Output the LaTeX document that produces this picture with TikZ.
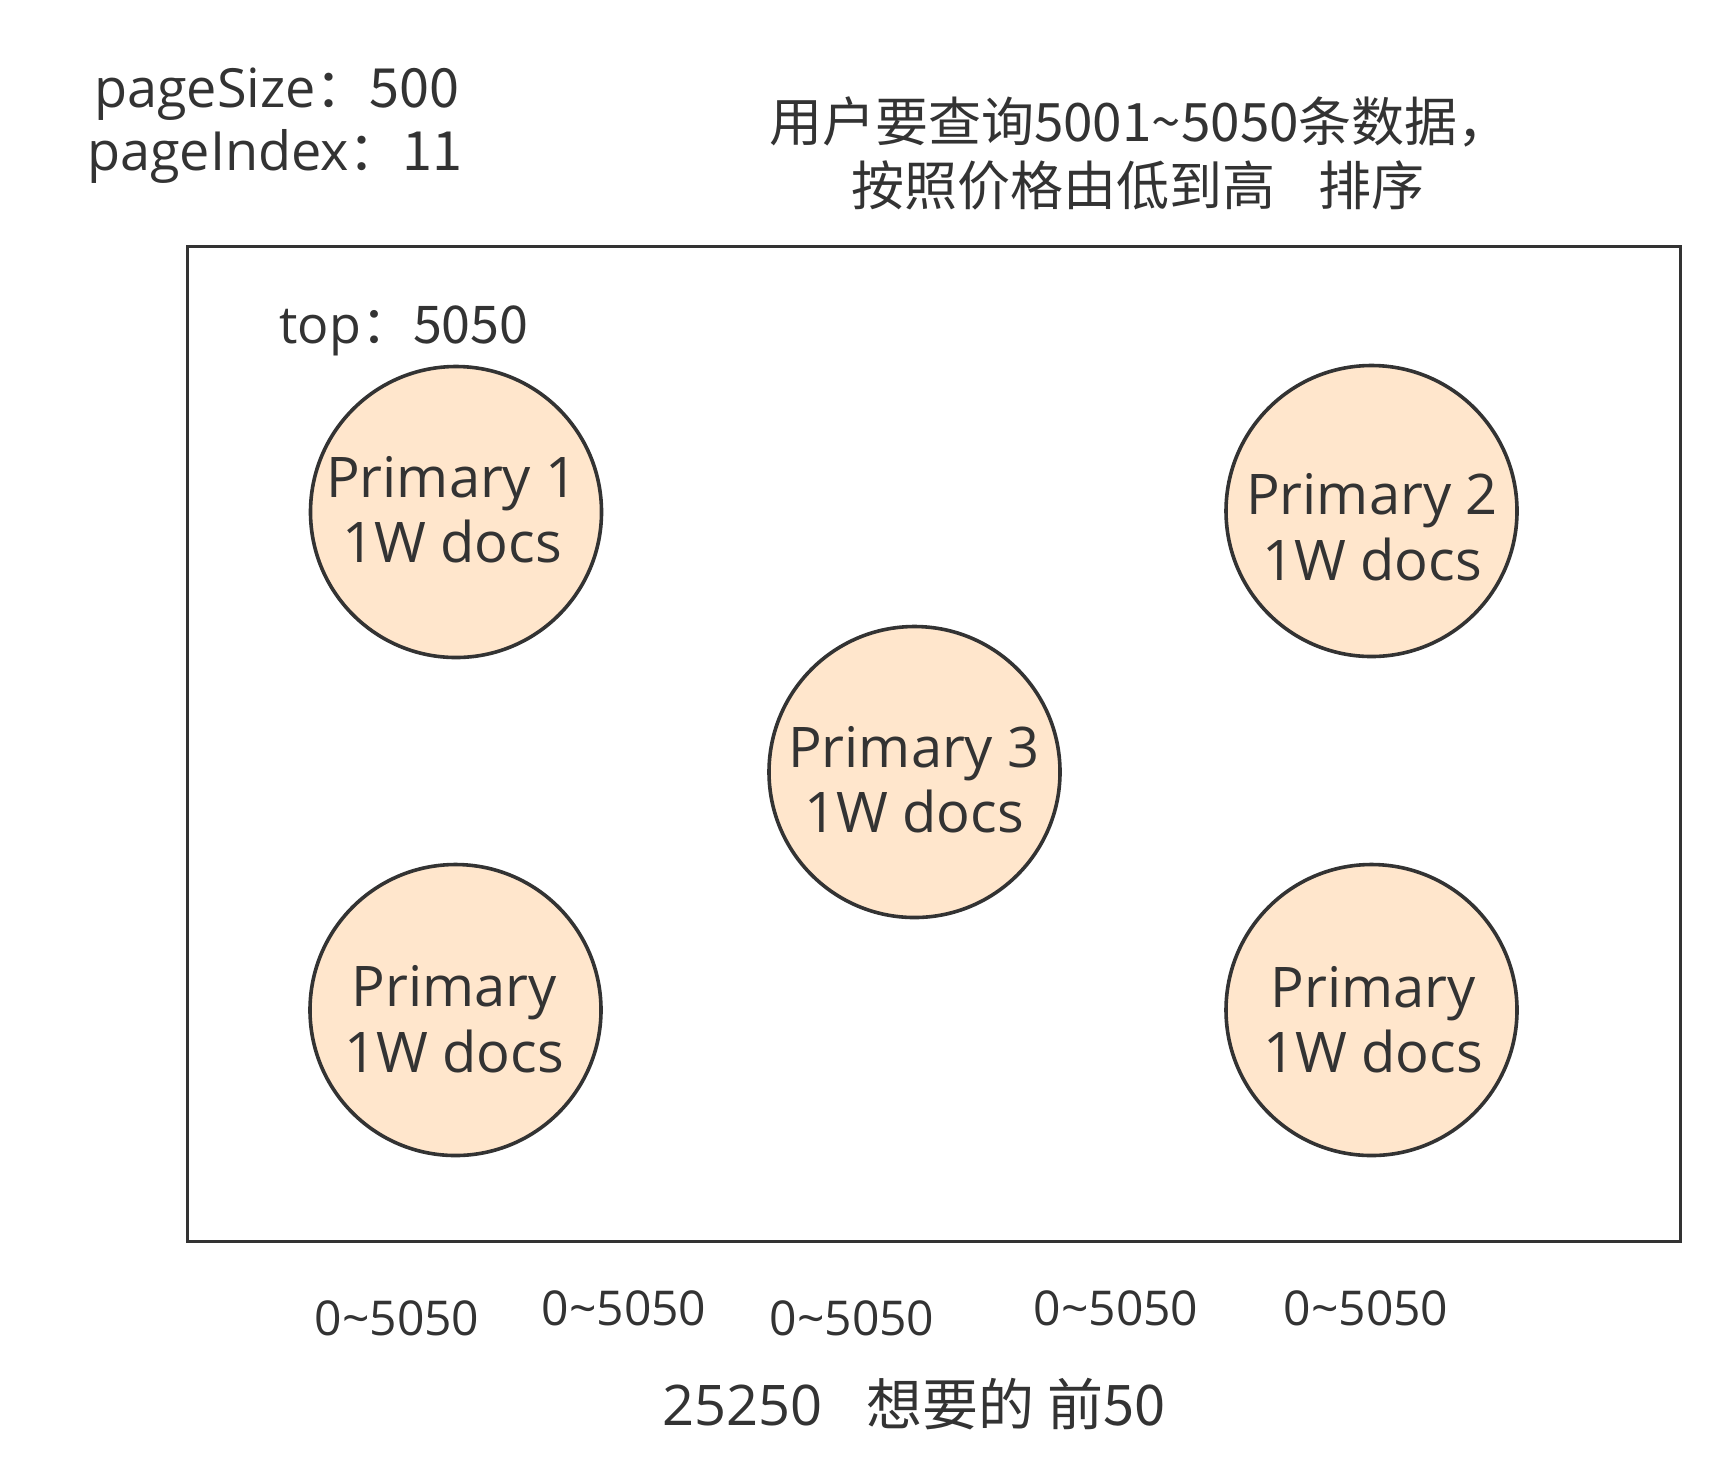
\documentclass[tikz,border=0pt]{standalone}
\usepackage{fontspec}
\setmainfont{Open Sans}
\newfontfamily\cjk{Noto Sans CJK SC}
\definecolor{ink}{HTML}{333333}
\definecolor{shardfill}{HTML}{FFE6CC}
\begin{document}
\begin{tikzpicture}[x=0.5pt,y=-0.5pt,
  txt/.style={text=ink, inner sep=0pt, anchor=base},
  bigtxt/.style={txt, font=\fontsize{27pt}{32pt}\selectfont},
  toplbl/.style={txt, font=\fontsize{26pt}{32pt}\selectfont},
  titletxt/.style={txt, font=\fontsize{26.5pt}{32pt}\selectfont},
  shard/.style={circle, draw=ink, line width=1.8pt, fill=shardfill, minimum size=145.5pt, inner sep=0pt},
  shardtxt/.style={txt, font=\fontsize{28pt}{32pt}\selectfont},
  rangetxt/.style={txt, font=\fontsize{24pt}{28pt}\selectfont},
  sumtxt/.style={txt, font=\fontsize{28pt}{34pt}\selectfont},
  framebox/.style={draw=ink, line width=1.9pt, minimum width=746.5pt, minimum height=497.5pt, inner sep=0pt}]
\fill[white] (0,0) rectangle (1732,1480);
\useasboundingbox (0,0) rectangle (1732,1480);

% header texts
\node[bigtxt] (ps) at (277,107) {pageSize\cjk{：}500};
\node[bigtxt] (pi) at (275,170) {pageIndex\cjk{：}11};
\node[titletxt] (t1) at (1140,141) {\cjk{用户要查询}5001\textasciitilde 5050\cjk{条数据，}};
\node[titletxt] (t2) at (1138,205) {\cjk{按照价格由低到高\hspace{0.8em}排序}};

% frame
\node[framebox] (box) at (934,744) {};
\node[toplbl] (top) at (404,343) {top\cjk{：}5050};

% shards
\node[shard] (p1) at (456,512) {};
\node[shard] (p2) at (1371.5,511) {};
\node[shard] (p3) at (914.5,772) {};
\node[shard] (p4) at (455.5,1010) {};
\node[shard] (p5) at (1371.5,1010) {};

\node[shardtxt] (p1a) at (452,497) {Primary 1};
\node[shardtxt] (p1b) at (452,562) {1W docs};
\node[shardtxt] (p2a) at (1372,514) {Primary 2};
\node[shardtxt] (p2b) at (1372,580) {1W docs};
\node[shardtxt] (p3a) at (914,767) {Primary 3};
\node[shardtxt] (p3b) at (914,832) {1W docs};
\node[shardtxt] (p4a) at (454,1006) {Primary};
\node[shardtxt] (p4b) at (454,1072) {1W docs};
\node[shardtxt] (p5a) at (1373,1007) {Primary};
\node[shardtxt] (p5b) at (1373,1072) {1W docs};

% ranges
\node[rangetxt] (r1) at (397,1335) {0\textasciitilde 5050};
\node[rangetxt] (r2) at (624,1325) {0\textasciitilde 5050};
\node[rangetxt] (r3) at (852,1335) {0\textasciitilde 5050};
\node[rangetxt] (r4) at (1116,1325) {0\textasciitilde 5050};
\node[rangetxt] (r5) at (1366,1325) {0\textasciitilde 5050};

\node[sumtxt] (sum) at (914,1425) {25250\hspace{22pt}\cjk{想要的 前}50};
\end{tikzpicture}
\end{document}
